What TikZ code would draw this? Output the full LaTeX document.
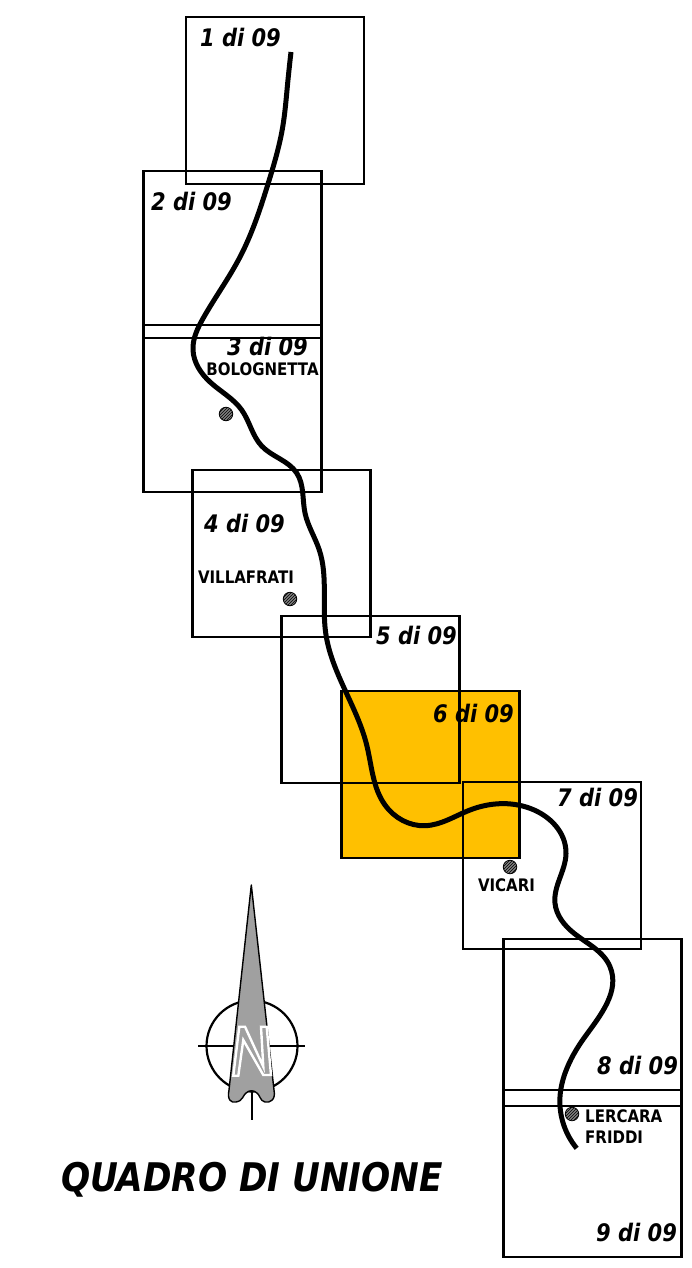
\documentclass[tikz,border=0pt]{standalone}
\usepackage{fontspec}
\setmainfont{DejaVu Sans}
\usetikzlibrary{patterns,hobby}
\definecolor{sheetorange}{HTML}{FFC000}
\definecolor{needlegray}{HTML}{A0A0A0}
\newcommand{\talltext}[1]{\scalebox{1}[1.15]{#1}}
\tikzset{
  sheet/.style={draw=black,line width=2.3pt,minimum width=178pt,minimum height=167pt,inner sep=0pt,outer sep=0pt},
  sheetlabel/.style={inner sep=0pt,font=\bfseries\itshape\fontsize{21}{24}\selectfont},
  town/.style={inner sep=0pt,font=\bfseries\fontsize{15}{21}\selectfont},
  towndot/.style={circle,draw=black,line width=0.8pt,preaction={fill=black!50},pattern=north east lines,pattern color=black,minimum size=13.5pt,inner sep=0pt},
  route/.style={draw=black,line width=5pt,line cap=butt,line join=round},
  compassline/.style={draw=black,line width=2.2pt}
}
\begin{document}
\begin{tikzpicture}[x=1pt,y=-1pt]
\useasboundingbox (0,0) rectangle (692,1268);
\fill[white] (0,0) rectangle (692,1268);
% sheets
\node[sheet,fill=sheetorange] (s6) at (430.5,774.5) {};
\node[sheet] (s1) at (275,100.5) {};
\node[sheet] (s2) at (232.5,254.5) {};
\node[sheet] (s3) at (232.5,408.5) {};
\node[sheet] (s4) at (281.5,553.5) {};
\node[sheet] (s5) at (370.5,699.5) {};
\node[sheet] (s7) at (552,865.5) {};
\node[sheet] (s8) at (592.5,1022.5) {};
\node[sheet] (s9) at (592.5,1173.5) {};
% route
\draw[route,use Hobby shortcut] (291,52) .. (287.3,87) .. (282.7,127) .. (268.3,183) .. (240,257) .. (203.3,318)
 .. (193,350) .. (210,382) .. (241.7,410) .. (261.7,446) .. (296.7,473) .. (305,513) .. (319.3,550)
 .. (325.7,633) .. (366.7,745) .. (385,805) .. (425,825.7) .. (470,810) .. (530,808.3)
 .. (566,853.3) .. (555,903.3) .. (573.3,932.7) .. (610,966.7) .. (585,1036.7) .. (565,1073.3) .. (560,1096.7) .. (576.7,1148.3);
% sheet labels
\node[sheetlabel] (l1) at (240.5,38) {\talltext{1 di 09}};
\node[sheetlabel] (l2) at (191.5,202) {\talltext{2 di 09}};
\node[sheetlabel] (l3) at (267.5,346.5) {\talltext{3 di 09}};
\node[sheetlabel] (l4) at (244.5,524) {\talltext{4 di 09}};
\node[sheetlabel] (l5) at (416.5,636) {\talltext{5 di 09}};
\node[sheetlabel] (l6) at (473.5,714) {\talltext{6 di 09}};
\node[sheetlabel] (l7) at (597.5,797) {\talltext{7 di 09}};
\node[sheetlabel] (l8) at (637.5,1065) {\talltext{8 di 09}};
\node[sheetlabel] (l9) at (636.5,1232) {\talltext{9 di 09}};
% towns
\node[towndot] (d3) at (226,414) {};
\node[towndot] (d4) at (290,599) {};
\node[towndot] (d7) at (510,867) {};
\node[towndot] (d9) at (572,1114) {};
\node[town] (t3) at (262.5,369) {\talltext{BOLOGNETTA}};
\node[town] (t4) at (246,577) {\talltext{VILLAFRATI}};
\node[town] (t7) at (506.5,885) {\talltext{VICARI}};
\node[town,align=left,anchor=west] (t9) at (585,1126.5) {\talltext{LERCARA}\\\talltext{FRIDDI}};
% compass
\draw[compassline] (252,1046) circle (45.5pt);
\draw[compassline] (198,1046) -- (305,1046);
\draw[compassline] (252,1090) -- (252,1120);
\draw[draw=black,line width=1.4pt,fill=needlegray,line join=round]
  (251.3,885) -- (274,1090) .. controls (276,1100) and (270,1103) .. (265,1102)
  .. controls (260,1101) and (260,1095) .. (257,1093)
  .. controls (254,1090) and (249,1090) .. (246,1093)
  .. controls (243,1095) and (243,1101) .. (236,1102)
  .. controls (231,1103) and (227,1100) .. (229,1090) -- cycle;
\draw[draw=white,line width=2.4pt,fill=needlegray,line join=miter]
  (233.3,1075.7) -- (239.3,1026.7) -- (245,1026.7) -- (263.3,1066.7) -- (261,1026.7)
  -- (266.7,1026.7) -- (271,1075) -- (263.3,1075) -- (243.3,1040) -- (238.3,1075.7) -- cycle;
% title
\node[inner sep=0pt,font=\bfseries\itshape\fontsize{34.3}{36}\selectfont] (title) at (252,1180) {\talltext{QUADRO DI UNIONE}};
\end{tikzpicture}
\end{document}
